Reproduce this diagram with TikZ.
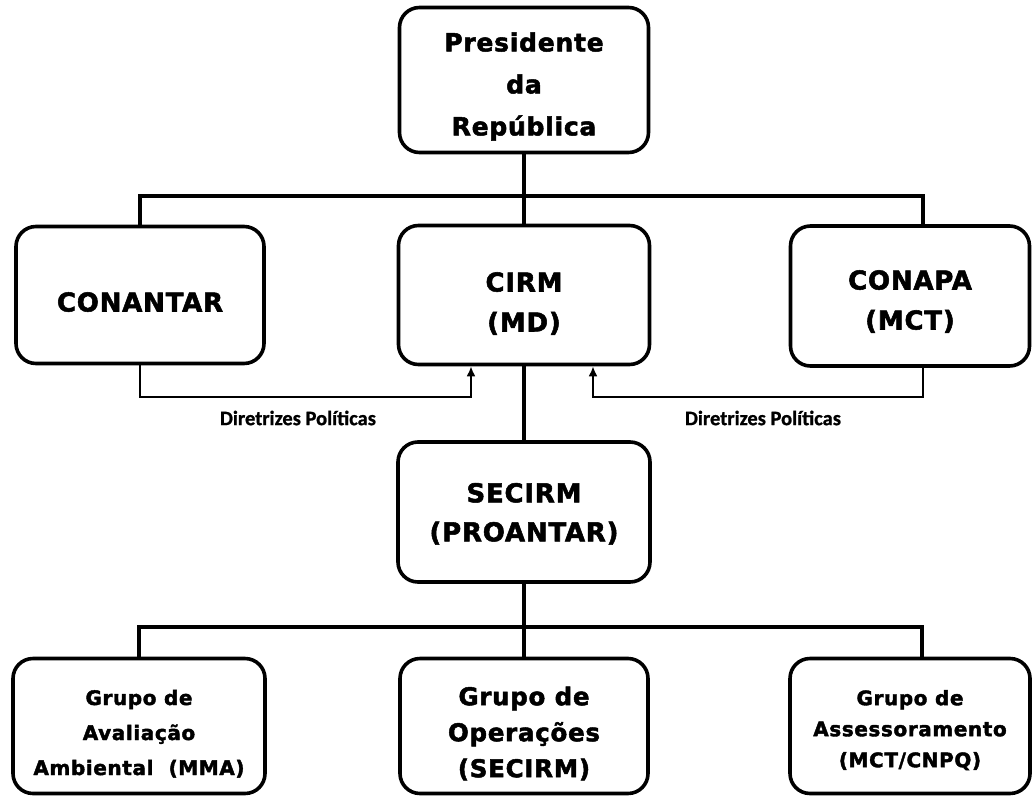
\documentclass[tikz,border=0pt]{standalone}
\usepackage{fontspec}
\usepackage{tikz}
\usetikzlibrary{calc,arrows.meta}
\newfontfamily\boxfont[LetterSpace=3, FakeBold=2]{DejaVu Sans Bold}
\newfontfamily\notefont[FakeBold=1]{Carlito Bold}
\definecolor{linecolorc}{HTML}{000000}
\colorlet{linecolor}{linecolorc}
% lines of a box, set a little below the middle
\newcommand{\boxlines}[2][6pt]{%
    \raisebox{-#1}[\height][\depth]{\begin{tabular}{@{}c@{}}#2\end{tabular}}}
\tikzstyle{orgbox} = [
    draw=linecolor,
    fill=white,
    line width=3.6pt,
    rounded corners=20pt,
    rectangle,
    inner sep=0pt
    ]
\tikzstyle{bigtext} = [font=\boxfont\fontsize{26}{40}\selectfont]
\tikzstyle{smalltext} = [font=\boxfont\fontsize{20}{35}\selectfont]
\tikzstyle{link} = [draw=linecolor, line width=3.3pt]
\tikzstyle{policy} = [
    draw=linecolor,
    line width=2.6pt,
    -{Latex[length=10pt,width=9pt]}
    ]
\tikzstyle{note} = [font=\notefont\fontsize{20.5}{24}\selectfont]

\begin{document}
\begin{tikzpicture}[x=1pt,y=-1pt]
\useasboundingbox (0,0) rectangle (1032,797);

\node [orgbox, bigtext, font=\boxfont\fontsize{25}{42}\selectfont,
    minimum width=249pt, minimum height=145pt] (pres) at (524,80)
    {\boxlines[5pt]{Presidente\\da\\República}};

\node [orgbox, bigtext, minimum width=248pt, minimum height=137pt] (conantar) at (140,295)
    {\boxlines[8.5pt]{CONANTAR}};
\node [orgbox, bigtext, minimum width=251pt, minimum height=139pt] (cirm) at (524,295)
    {\boxlines[8.5pt]{CIRM\\(MD)}};
\node [orgbox, bigtext, minimum width=239pt, minimum height=140pt] (conapa) at (910,296)
    {\boxlines[5.5pt]{CONAPA\\(MCT)}};

\node [orgbox, bigtext, font=\boxfont\fontsize{26}{39}\selectfont,
    minimum width=252pt, minimum height=140pt] (secirm) at (524,512)
    {\boxlines[2pt]{SECIRM\\(PROANTAR)}};

\node [orgbox, smalltext, minimum width=252pt, minimum height=135pt] (gaa) at (139,726)
    {\boxlines[7pt]{Grupo de\\Avaliação\\Ambiental\ \ (MMA)}};
\node [orgbox, bigtext, font=\boxfont\fontsize{24.5}{36}\selectfont,
    minimum width=248pt, minimum height=135pt] (gop) at (524,726)
    {\boxlines[8pt]{Grupo de\\Operações\\(SECIRM)}};
\node [orgbox, smalltext, font=\boxfont\fontsize{20}{31}\selectfont,
    minimum width=240pt, minimum height=135pt] (gas) at (910,726)
    {\boxlines[4pt]{Grupo de\\Assessoramento\\(MCT/CNPQ)}};

% hierarchy
\coordinate (topbar) at (524,196);
\coordinate (lowbar) at (524,627);
\draw [link] (pres) -- (cirm);
\draw [link] (cirm) -- (secirm);
\draw [link] (secirm) -- (gop);
\draw [link] (conantar.north) |- (topbar) -| ([xshift=13pt]conapa.north);
\draw [link] (gaa.north) |- (lowbar) -| ([xshift=12pt]gas.north);

% diretrizes
\coordinate (dirL) at (471,397);
\coordinate (dirR) at (593,397);
\draw [policy] (conantar.south) |- (dirL) -- (dirL |- cirm.south);
\draw [policy] ([xshift=13pt]conapa.south) |- (dirR) -- (dirR |- cirm.south);
\node [note] (noteL) at (298,418) {Diretrizes Políticas};
\node [note] (noteR) at (763,418) {Diretrizes Políticas};
\end{tikzpicture}
\end{document}
